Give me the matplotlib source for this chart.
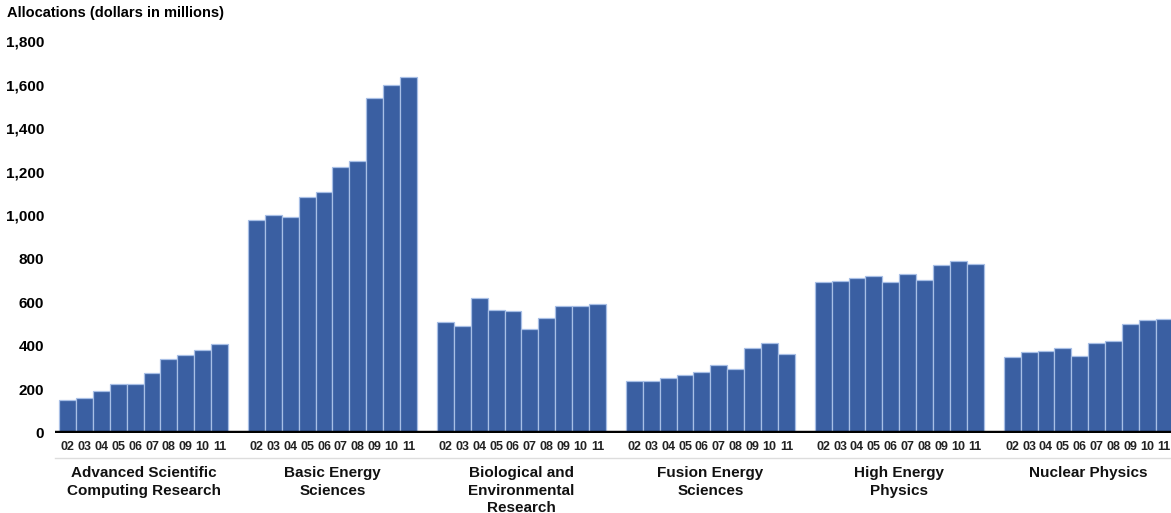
import matplotlib
matplotlib.use("Agg")
import matplotlib.pyplot as plt
from matplotlib import font_manager

# ---- data ----
programs = ["Advanced Scientific\nComputing Research", "Basic Energy\nSciences",
            "Biological and\nEnvironmental\nResearch", "Fusion Energy\nSciences",
            "High Energy\nPhysics", "Nuclear Physics"]
years = ["02", "03", "04", "05", "06", "07", "08", "09", "10", "11"]
ascr = [151, 159, 194, 224, 225, 274, 340, 357, 381, 408]
bes = [979, 1002, 991, 1082, 1108, 1220, 1250, 1536, 1598, 1636]
ber = [510, 491, 621, 565, 562, 476, 528, 583, 585, 594]
fes = [238, 238, 253, 266, 279, 310, 292, 391, 415, 365]
hep = [693, 699, 713, 720, 695, 731, 701, 773, 789, 774]
np_ = [350, 370, 377, 392, 354, 411, 421, 499, 521, 525]
series = [ascr, bes, ber, fes, hep, np_]
yticks = [0, 200, 400, 600, 800, 1000, 1200, 1400, 1600, 1800]

names = {f.name for f in font_manager.fontManager.ttflist}
main = "Liberation Sans" if "Liberation Sans" in names else "DejaVu Sans"
plt.rcParams["font.family"] = [main, "DejaVu Sans"]

W, H = 1171, 513
fig = plt.figure(figsize=(W / 100, H / 100), dpi=100)
ax_left, ax_bottom, ax_top = 55, 80, 472
ax = fig.add_axes([ax_left / W, ax_bottom / H, 1 - ax_left / W, (ax_top - ax_bottom) / H])

bar_color = "#3a5fa2"
edge_color = "#a8bfe6"
group_step = 11.18
xs_all, labels_all, centers = [], [], []
for g, vals in enumerate(series):
    xs = [g * group_step + i + 0.5 for i in range(len(vals))]
    ax.bar(xs, vals, width=1.0, color=bar_color, edgecolor=edge_color, linewidth=0.9, zorder=2)
    xs_all += xs
    labels_all += years
    centers.append(g * group_step + len(vals) / 2)

ax.set_ylim(0, 1800)
ax.set_xlim(-0.24, (W - 59) / 16.9)
ax.axhline(0, color="black", lw=3.2, zorder=3)

ax.set_yticks(yticks)
ax.set_yticklabels([f"{v:,}" for v in yticks], fontsize=11, fontweight="bold")
ax.set_xticks(xs_all)
ax.set_xticklabels(labels_all, fontsize=9, fontweight="bold", color="#222222")
ax.tick_params(axis="y", length=0, pad=8)
ax.tick_params(axis="x", length=0, pad=6)
for s in ax.spines.values():
    s.set_visible(False)

# faint separator under year labels
ax.plot([-0.24, 70], [-0.064, -0.064], transform=ax.get_xaxis_transform(),
        color="#dddddd", lw=1, clip_on=False)

for c, name in zip(centers, programs):
    ax.text(c, -0.085, name, transform=ax.get_xaxis_transform(), ha="center", va="top",
            fontsize=11, fontweight="bold", linespacing=1.3, color="#111111")

fig.text(7 / W, 1 - 13 / H, "Allocations (dollars in millions)", ha="left", va="center",
         fontsize=10.5, fontweight="bold")

fig.savefig("out.png", dpi=100)
